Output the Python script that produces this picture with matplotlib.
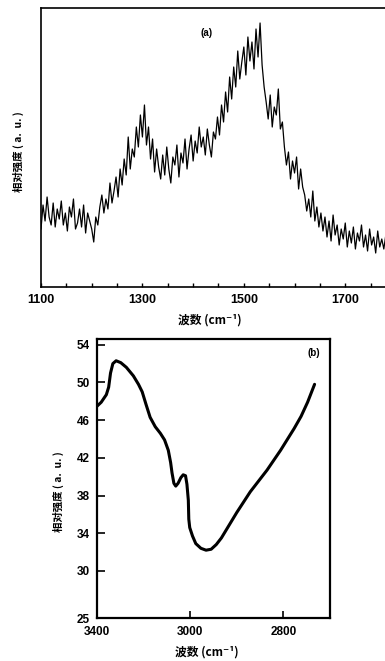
import numpy as np
import matplotlib.pyplot as plt
from matplotlib.ticker import MultipleLocator

plt.rcParams['font.family'] = ['Liberation Sans', 'DejaVu Sans']
cjk = ['Noto Sans CJK SC', 'DejaVu Sans']

# (a) 拉曼光谱, 每 4 cm-1 一个点, 强度为任意单位
wn_a = np.arange(1100, 1784, 4)
int_a = [
    58, 82, 66, 90, 70, 62, 84, 60, 78, 68,
    86, 62, 74, 56, 80, 70, 88, 58, 64, 78,
    60, 82, 54, 74, 66, 58, 45, 70, 62, 80,
    92, 74, 88, 78, 104, 84, 96, 110, 90, 118,
    102, 128, 112, 150, 118, 138, 130, 160, 140, 172,
    150, 182, 142, 160, 128, 148, 115, 138, 120, 108,
    132, 112, 140, 118, 104, 130, 122, 142, 110, 134,
    124, 148, 118, 138, 152, 126, 146, 134, 160, 140,
    150, 132, 158, 142, 130, 155, 148, 170, 152, 182,
    165, 195, 175, 210, 188, 220, 200, 236, 208, 225,
    240, 212, 250, 226, 245, 218, 258, 230, 264, 222,
    200, 185, 168, 192, 160, 180, 172, 198, 158, 165,
    140, 122, 135, 108, 126, 114, 130, 98, 118, 100,
    92, 76, 88, 70, 96, 66, 80, 60, 74, 56,
    70, 50, 66, 46, 72, 52, 62, 42, 58, 48,
    64, 40, 56, 44, 60, 38, 54, 46, 62, 40,
    52, 36, 58, 42, 50, 34, 56, 40, 48, 38,
    52,
]
xticks_a = [1100, 1300, 1500, 1700]

# (b) 红外光谱
wn_b = [3206, 3191, 3180, 3175, 3171, 3166, 3159, 3149, 3137, 3122,
        3111, 3103, 3095, 3086, 3075, 3064, 3055, 3047, 3042, 3039,
        3035, 3031, 3026, 3020, 3015, 3010, 3007, 3004, 3003, 3001,
        2995, 2988, 2977, 2966, 2955, 2944, 2933, 2922, 2900, 2871,
        2835, 2806, 2777, 2762, 2748, 2733]
int_b = [47.2, 47.9, 48.7, 49.5, 51.0, 52.0, 52.3, 52.1, 51.6, 50.7,
         49.8, 49.0, 47.7, 46.3, 45.3, 44.6, 43.9, 42.8, 41.5, 40.4,
         39.3, 39.0, 39.3, 39.9, 40.2, 40.1, 39.2, 37.5, 35.5, 34.6,
         33.7, 32.9, 32.4, 32.2, 32.3, 32.8, 33.5, 34.4, 36.2, 38.4,
         40.7, 42.8, 45.1, 46.4, 47.9, 49.8]
xticks_b = [3200, 3000, 2800]
xlabels_b = ['3400', '3000', '2800']
yticks_b = [25, 30, 34, 38, 42, 46, 50, 54]

fig = plt.figure(figsize=(3.85, 6.61), dpi=100)

# ---- (a)
ax1 = fig.add_axes([0.1065, 0.5658, 0.922, 0.4221])
ax1.plot(wn_a, int_a, color='k', lw=0.9)
ax1.set_xlim(1100, 1800)
ax1.set_ylim(0, 279)
ax1.set_xticks(xticks_a)
ax1.xaxis.set_minor_locator(MultipleLocator(50))
ax1.set_yticks([])
ax1.tick_params(axis='x', which='both', direction='in', length=3, width=1,
                labelsize=9, pad=5)
for t in ax1.get_xticklabels():
    t.set_fontweight('bold')
for s in ax1.spines.values():
    s.set_linewidth(1.2)
ax1.text(1427, 254, '(a)', ha='center', va='center', fontsize=7, fontweight='bold')
fig.text(210 / 385, 1 - 320 / 661, '波数 (cm⁻¹)', family=cjk, fontsize=8.5,
         fontweight='bold', ha='center', va='center')
fig.text(18 / 385, 1 - 152 / 661, '相对强度 ( a.  u. )', family=cjk, fontsize=7.5,
         fontweight='bold', ha='center', va='center', rotation=90)

# ---- (b)
ax2 = fig.add_axes([0.252, 0.065, 0.605, 0.422])
ax2.plot(wn_b, int_b, color='k', lw=2.2, solid_capstyle='round', solid_joinstyle='round')
ax2.set_xlim(3200, 2700)
ax2.set_ylim(25, 54.6)
ax2.set_xticks(xticks_b)
ax2.set_xticklabels(xlabels_b)
ax2.set_yticks(yticks_b)
ax2.tick_params(axis='x', direction='in', length=5, width=1.2, labelsize=8.5, pad=6)
ax2.tick_params(axis='y', direction='in', length=6, width=1.2, labelsize=8.5, pad=5)
for t in ax2.get_xticklabels() + ax2.get_yticklabels():
    t.set_fontweight('bold')
for s in ax2.spines.values():
    s.set_linewidth(1.6)
ax2.text(0.93, 0.95, '(b)', transform=ax2.transAxes, ha='center', va='center',
         fontsize=7, fontweight='bold')
fig.text(207 / 385, 1 - 652 / 661, '波数 (cm⁻¹)', family=cjk, fontsize=8.5,
         fontweight='bold', ha='center', va='center')
fig.text(58 / 385, 1 - 492 / 661, '相对强度 ( a.  u. )', family=cjk, fontsize=7.5,
         fontweight='bold', ha='center', va='center', rotation=90)

fig.savefig('out.png', dpi=100)
